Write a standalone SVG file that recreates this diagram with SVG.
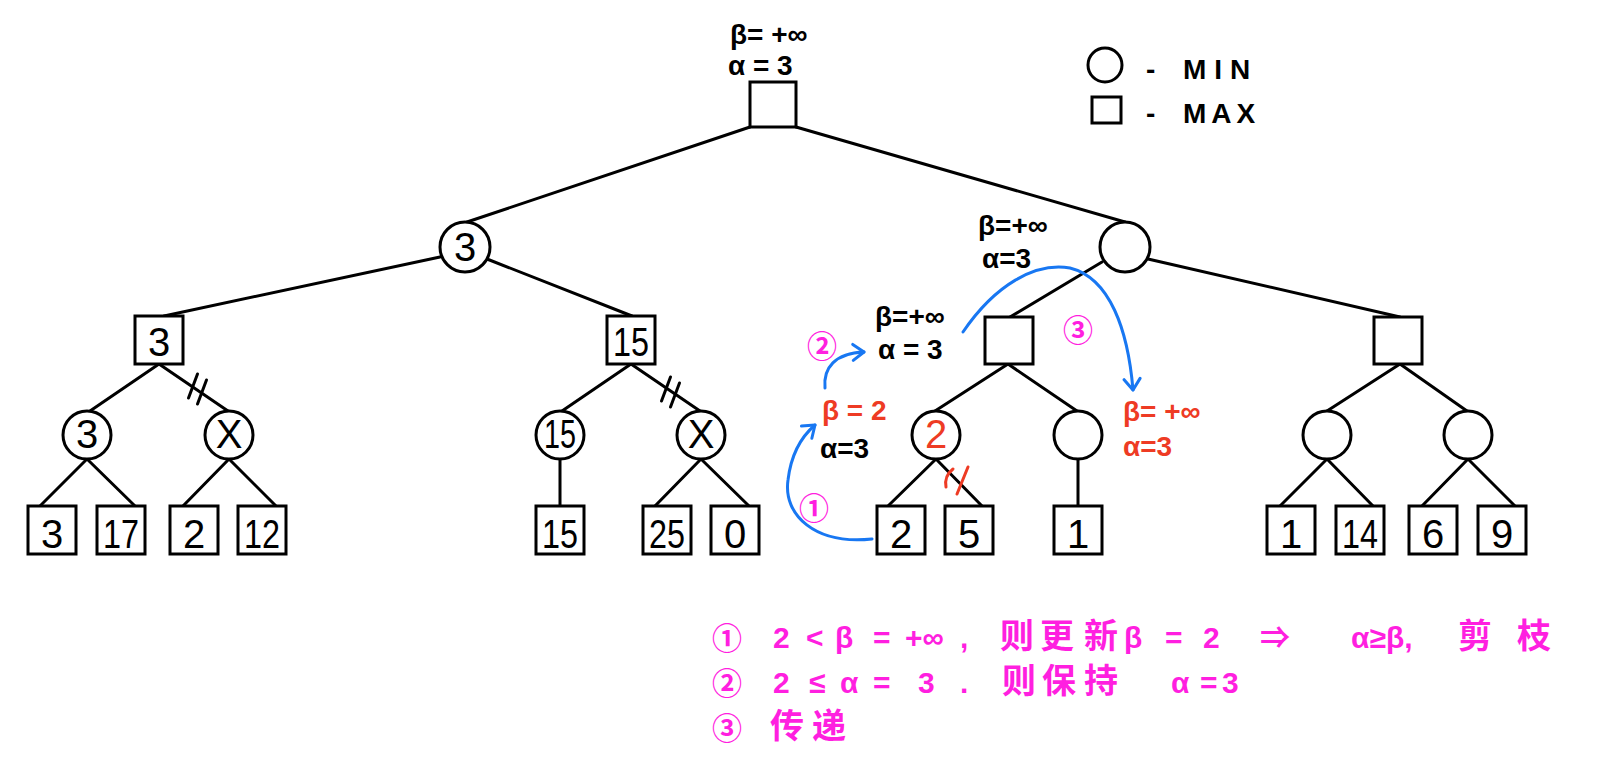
<svg xmlns="http://www.w3.org/2000/svg" width="1599" height="767" viewBox="0 0 1599 767">
<style>
.n{fill:#fff;stroke:#000;stroke-width:3}
.e{stroke:#000;stroke-width:3;fill:none;stroke-linecap:round}
.t{font-family:"Liberation Sans","DejaVu Sans",sans-serif;font-size:40px;text-anchor:middle;fill:#000}
.l{font-family:"Liberation Sans","DejaVu Sans","Noto Sans CJK SC",sans-serif;font-size:28px;font-weight:bold;fill:#000}
.red{fill:#ee3b24}
.mag{fill:#ff1fe0;font-family:"Liberation Sans","Noto Sans CJK SC",sans-serif;font-size:30px;font-weight:bold}
.cj{font-family:"Noto Sans CJK SC",sans-serif;font-size:34px;font-weight:bold;fill:#ff1fe0}
.ar{stroke:#1877f2;stroke-width:3;fill:none;stroke-linecap:round}
.hs{stroke:#000;stroke-width:3;fill:none;stroke-linecap:round}
.hr{stroke:#ee3b24;stroke-width:3;fill:none;stroke-linecap:round}
</style>
<defs>
<marker id="ah" viewBox="0 0 20 20" refX="16" refY="10" markerWidth="20" markerHeight="20" orient="auto" markerUnits="userSpaceOnUse">
<path d="M5,2 L16,10 L5,18" fill="none" stroke="#1877f2" stroke-width="3" stroke-linecap="round" stroke-linejoin="round"/>
</marker>
</defs>
<rect width="1599" height="767" fill="#fff"/>

<g id="connectors">
<line class="e" x1="750" y1="127" x2="467" y2="222"/>
<line class="e" x1="796" y1="127" x2="1125" y2="222"/>
<line class="e" x1="440" y1="257" x2="164" y2="316"/>
<line class="e" x1="487" y1="259" x2="632" y2="316"/>
<line class="e" x1="1102" y1="262" x2="1010" y2="317"/>
<line class="e" x1="1148" y1="259" x2="1400" y2="317"/>
<line class="e" x1="159" y1="364" x2="90" y2="411"/>
<line class="e" x1="159" y1="364" x2="228" y2="411"/>
<line class="e" x1="631" y1="364" x2="562" y2="411"/>
<line class="e" x1="631" y1="364" x2="700" y2="411"/>
<line class="e" x1="1008" y1="364" x2="935" y2="411"/>
<line class="e" x1="1008" y1="364" x2="1077" y2="411"/>
<line class="e" x1="1400" y1="364" x2="1327" y2="411"/>
<line class="e" x1="1400" y1="364" x2="1467" y2="411"/>
<line class="e" x1="87" y1="459" x2="40" y2="506"/>
<line class="e" x1="87" y1="459" x2="135" y2="506"/>
<line class="e" x1="229" y1="459" x2="183" y2="506"/>
<line class="e" x1="229" y1="459" x2="276" y2="506"/>
<line class="e" x1="560" y1="459" x2="560" y2="506"/>
<line class="e" x1="701" y1="459" x2="655" y2="506"/>
<line class="e" x1="701" y1="459" x2="749" y2="506"/>
<line class="e" x1="936" y1="459" x2="888" y2="506"/>
<line class="e" x1="936" y1="459" x2="982" y2="506"/>
<line class="e" x1="1078" y1="459" x2="1078" y2="506"/>
<line class="e" x1="1327" y1="459" x2="1280" y2="506"/>
<line class="e" x1="1327" y1="459" x2="1373" y2="506"/>
<line class="e" x1="1468" y1="459" x2="1422" y2="506"/>
<line class="e" x1="1468" y1="459" x2="1515" y2="506"/>
<line class="hs" x1="197.5" y1="374" x2="188.5" y2="398"/>
<line class="hs" x1="206.5" y1="380" x2="197.5" y2="404"/>
<line class="hs" x1="670.5" y1="377" x2="661.5" y2="401"/>
<line class="hs" x1="679.5" y1="383" x2="670.5" y2="407"/>
<path class="hr" d="M953,469 Q944,476 946,487"/>
<line class="hr" x1="968" y1="467" x2="957" y2="494"/>
<path class="ar" marker-end="url(#ah)" d="M872,539 C815,545 783,515 788,480 C791,455 801,437 815,425"/>
<path class="ar" marker-end="url(#ah)" d="M825,388 C823,368 835,353 864,352"/>
<path class="ar" marker-end="url(#ah)" d="M963,332 C995,285 1035,262 1070,268 C1110,278 1128,330 1133,390"/>
</g>

<g id="root"><rect class="n" x="750" y="82" width="46" height="45"/>
<text class="l" x="730" y="44" font-size="25">β= +∞</text>
<text class="l" x="728" y="75" font-size="29">α = 3</text></g>

<g id="legend">
<circle class="n" cx="1105" cy="65" r="17"/>
<rect class="n" x="1092" y="97" width="29" height="26"/>
<text class="l" x="1146" y="79" font-size="30" font-weight="normal">-</text>
<text class="l" x="1183" y="79" font-size="30" font-weight="normal" letter-spacing="8">MIN</text>
<text class="l" x="1146" y="123" font-size="30" font-weight="normal">-</text>
<text class="l" x="1183" y="123" font-size="30" font-weight="normal" letter-spacing="5">MAX</text>
</g>

<g id="min-left"><circle class="n" cx="465" cy="247" r="25"/><text class="t" x="465" y="261" font-size="38">3</text></g>
<g id="min-right"><circle class="n" cx="1125" cy="247" r="25"/>
<text class="l" x="978" y="235" font-size="25">β=+∞</text>
<text class="l" x="982" y="268" font-size="29">α=3</text></g>

<g id="max-3"><rect class="n" x="135" y="316" width="48" height="48"/><text class="t" x="159" y="356">3</text></g>
<g id="max-15"><rect class="n" x="607" y="316" width="48" height="48"/><text class="t" x="631" y="356" textLength="36" lengthAdjust="spacingAndGlyphs">15</text></g>
<g id="max-r1"><rect class="n" x="985" y="317" width="48" height="47"/>
<text class="l" x="875" y="326">β=+∞</text>
<text class="l" x="878" y="359" font-size="30">α = 3</text></g>
<g id="max-r2"><rect class="n" x="1374" y="317" width="48" height="47"/></g>

<g id="min-a"><circle class="n" cx="87" cy="435" r="24"/><text class="t" x="87" y="448" font-size="36">3</text></g>
<g id="min-b"><circle class="n" cx="229" cy="435" r="24"/><text class="t" x="229" y="448" font-size="36">X</text></g>
<g id="min-c"><circle class="n" cx="560" cy="435" r="24"/><text class="t" x="560" y="448" font-size="36" textLength="32" lengthAdjust="spacingAndGlyphs">15</text></g>
<g id="min-d"><circle class="n" cx="701" cy="435" r="24"/><text class="t" x="701" y="448" font-size="36">X</text></g>
<g id="min-e"><circle class="n" cx="936" cy="435" r="24"/><text class="t red" x="936" y="448" font-size="36">2</text>
<text class="l red" x="822" y="420">β = 2</text>
<text class="l" x="820" y="458">α=3</text></g>
<g id="min-f"><circle class="n" cx="1078" cy="435" r="24"/>
<text class="l red" x="1123" y="421">β= +∞</text>
<text class="l red" x="1123" y="456">α=3</text></g>
<g id="min-g"><circle class="n" cx="1327" cy="435" r="24"/></g>
<g id="min-h"><circle class="n" cx="1468" cy="435" r="24"/></g>

<g id="leaf-1"><rect class="n" x="28" y="506" width="48" height="48"/><text class="t" x="52" y="548">3</text></g>
<g id="leaf-2"><rect class="n" x="97" y="506" width="48" height="48"/><text class="t" x="121" y="548" textLength="36" lengthAdjust="spacingAndGlyphs">17</text></g>
<g id="leaf-3"><rect class="n" x="170" y="506" width="48" height="48"/><text class="t" x="194" y="548">2</text></g>
<g id="leaf-4"><rect class="n" x="238" y="506" width="48" height="48"/><text class="t" x="262" y="548" textLength="36" lengthAdjust="spacingAndGlyphs">12</text></g>
<g id="leaf-5"><rect class="n" x="536" y="506" width="48" height="48"/><text class="t" x="560" y="548" textLength="36" lengthAdjust="spacingAndGlyphs">15</text></g>
<g id="leaf-6"><rect class="n" x="643" y="506" width="48" height="48"/><text class="t" x="667" y="548" textLength="36" lengthAdjust="spacingAndGlyphs">25</text></g>
<g id="leaf-7"><rect class="n" x="711" y="506" width="48" height="48"/><text class="t" x="735" y="548">0</text></g>
<g id="leaf-8"><rect class="n" x="877" y="506" width="48" height="48"/><text class="t" x="901" y="548">2</text></g>
<g id="leaf-9"><rect class="n" x="945" y="506" width="48" height="48"/><text class="t" x="969" y="548">5</text></g>
<g id="leaf-10"><rect class="n" x="1054" y="506" width="48" height="48"/><text class="t" x="1078" y="548">1</text></g>
<g id="leaf-11"><rect class="n" x="1267" y="506" width="48" height="48"/><text class="t" x="1291" y="548">1</text></g>
<g id="leaf-12"><rect class="n" x="1336" y="506" width="48" height="48"/><text class="t" x="1360" y="548" textLength="36" lengthAdjust="spacingAndGlyphs">14</text></g>
<g id="leaf-13"><rect class="n" x="1409" y="506" width="48" height="48"/><text class="t" x="1433" y="548">6</text></g>
<g id="leaf-14"><rect class="n" x="1478" y="506" width="48" height="48"/><text class="t" x="1502" y="548">9</text></g>

<g id="step-marks">
<text class="mag" x="822" y="357" font-size="27" text-anchor="middle">②</text>
<text class="mag" x="1078" y="341" font-size="29" text-anchor="middle">③</text>
<text class="mag" x="814" y="519" font-size="27" text-anchor="middle">①</text>
</g>

<g id="notes">
<text class="mag" x="712" y="649" font-size="34">①</text>
<text class="mag" x="773" y="648">2</text>
<text class="mag" x="806" y="648">&lt;</text>
<text class="mag" x="835" y="648">β</text>
<text class="mag" x="873" y="648">=</text>
<text class="mag" x="905" y="648">+∞</text>
<text class="mag" x="960" y="648">,</text>
<text class="cj" x="1000" y="648">则</text>
<text class="cj" x="1040" y="648">更</text>
<text class="cj" x="1084" y="648">新</text>
<text class="mag" x="1124" y="648">β</text>
<text class="mag" x="1165" y="648">=</text>
<text class="mag" x="1203" y="648">2</text>
<text class="mag" x="1260" y="648">⇒</text>
<text class="mag" x="1351" y="648">α≥β,</text>
<text class="cj" x="1458" y="648">剪</text>
<text class="cj" x="1517" y="648">枝</text>

<text class="mag" x="712" y="694" font-size="34">②</text>
<text class="mag" x="773" y="693">2</text>
<text class="mag" x="809" y="693">≤</text>
<text class="mag" x="840" y="693">α</text>
<text class="mag" x="873" y="693">=</text>
<text class="mag" x="918" y="693">3</text>
<text class="mag" x="960" y="693">.</text>
<text class="cj" x="1002" y="693">则</text>
<text class="cj" x="1042" y="693">保</text>
<text class="cj" x="1084" y="693">持</text>
<text class="mag" x="1171" y="693">α</text>
<text class="mag" x="1200" y="693">=</text>
<text class="mag" x="1222" y="693">3</text>

<text class="mag" x="712" y="739" font-size="34">③</text>
<text class="cj" x="770" y="738">传</text>
<text class="cj" x="812" y="738">递</text>
</g>
</svg>
